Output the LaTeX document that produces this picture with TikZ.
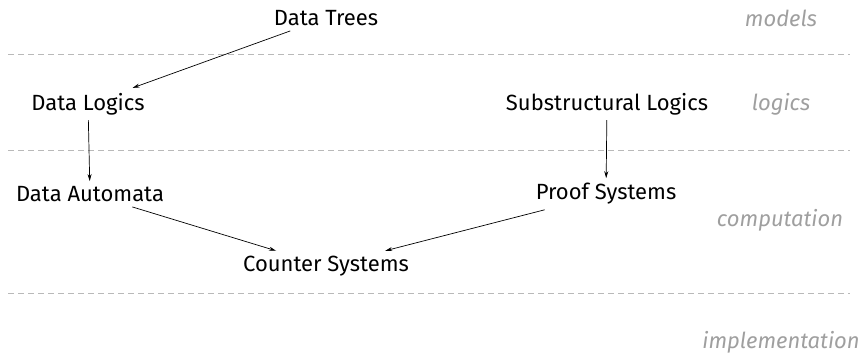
\documentclass[tikz,border=0pt]{standalone}
\usepackage{fontspec}
\setmainfont{Fira Sans}
\usetikzlibrary{arrows.meta}

\begin{document}
\begin{tikzpicture}[x=1pt,y=-1pt,
  topic/.style={font=\fontsize{22}{26}\selectfont, inner sep=5pt},
  layer/.style={font=\fontsize{22}{26}\selectfont\itshape, text=gray!75},
  sep/.style={draw=gray!55, dash pattern=on 6pt off 4pt, line width=0.8pt},
  link/.style={-{Stealth[length=7pt,width=4pt]}, line width=0.7pt}]
\useasboundingbox (0,0) rectangle (861,354);
% layers
\node (models) [layer] at (781,18) {models};
\node (logics) [layer] at (781,104) {logics};
\node (computation) [layer] at (780,220) {computation};
\node (implementation) [layer] at (781,342) {implementation};
\draw[sep] (8,54) -- (850,54);
\draw[sep] (8,150) -- (850,150);
\draw[sep] (8,293) -- (850,293);
% topics
\node (trees) [topic] at (326,18) {Data Trees};
\node (datalogics) [topic] at (88,104) {Data Logics};
\node (subst) [topic] at (607,104) {Substructural Logics};
\node (automata) [topic] at (90,194) {Data Automata};
\node (proofs) [topic] at (606,194) {Proof Systems};
\node (counters) [topic] at (326,266) {Counter Systems};

\draw[link] (trees) -- (datalogics);
\draw[link] (datalogics) -- (automata);
\draw[link] (subst) -- (proofs);
\draw[link] (automata) -- (counters);
\draw[link] (proofs) -- (counters);
\end{tikzpicture}
\end{document}
